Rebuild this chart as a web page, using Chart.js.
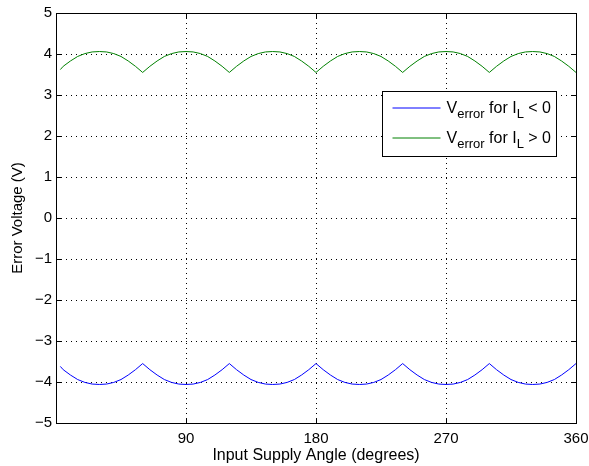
<!DOCTYPE html>
<html>
<head>
<meta charset="utf-8">
<script src="https://cdn.jsdelivr.net/npm/chart.js@4"></script>
<style>
  body { margin: 0; background: #fff; }
  #wrap { width: 589px; height: 466px; }
</style>
</head>
<body>
<div id="wrap"><canvas id="errChart" width="589" height="466"></canvas></div>
<script>
// Input supply angle (degrees)
const angles = [
    3, 5, 10, 15, 20, 25, 30, 35, 40, 45, 50, 55, 60,
    65, 70, 75, 80, 85, 90, 95, 100, 105, 110, 115, 120,
    125, 130, 135, 140, 145, 150, 155, 160, 165, 170, 175, 180,
    185, 190, 195, 200, 205, 210, 215, 220, 225, 230, 235, 240,
    245, 250, 255, 260, 265, 270, 275, 280, 285, 290, 295, 300,
    305, 310, 315, 320, 325, 330, 335, 340, 345, 350, 355, 360
];

// V_error for I_L < 0 (blue)
const errorNeg = [
    -3.62, -3.70, -3.83, -3.94, -4.01, -4.05, -4.06, -4.05, -4.01, -3.94, -3.83, -3.70, -3.55,
    -3.70, -3.83, -3.94, -4.01, -4.05, -4.06, -4.05, -4.01, -3.94, -3.83, -3.70, -3.55,
    -3.70, -3.83, -3.94, -4.01, -4.05, -4.06, -4.05, -4.01, -3.94, -3.83, -3.70, -3.55,
    -3.70, -3.83, -3.94, -4.01, -4.05, -4.06, -4.05, -4.01, -3.94, -3.83, -3.70, -3.55,
    -3.70, -3.83, -3.94, -4.01, -4.05, -4.06, -4.05, -4.01, -3.94, -3.83, -3.70, -3.55,
    -3.70, -3.83, -3.94, -4.01, -4.05, -4.06, -4.05, -4.01, -3.94, -3.83, -3.70, -3.55
];

// V_error for I_L > 0 (green)
const errorPos = [
    3.62, 3.70, 3.83, 3.94, 4.01, 4.05, 4.06, 4.05, 4.01, 3.94, 3.83, 3.70, 3.55,
    3.70, 3.83, 3.94, 4.01, 4.05, 4.06, 4.05, 4.01, 3.94, 3.83, 3.70, 3.55,
    3.70, 3.83, 3.94, 4.01, 4.05, 4.06, 4.05, 4.01, 3.94, 3.83, 3.70, 3.55,
    3.70, 3.83, 3.94, 4.01, 4.05, 4.06, 4.05, 4.01, 3.94, 3.83, 3.70, 3.55,
    3.70, 3.83, 3.94, 4.01, 4.05, 4.06, 4.05, 4.01, 3.94, 3.83, 3.70, 3.55,
    3.70, 3.83, 3.94, 4.01, 4.05, 4.06, 4.05, 4.01, 3.94, 3.83, 3.70, 3.55
];

const xTicks = [90, 180, 270, 360];
const yTicks = [-5, -4, -3, -2, -1, 0, 1, 2, 3, 4, 5];

const BLUE = '#0000ff';
const GREEN = '#008000';
const FONT = '"Liberation Sans", Arial, Helvetica, sans-serif';

function toPoints(ys) {
    return angles.map((a, i) => ({ x: a, y: ys[i] }));
}

// MATLAB style: dotted grid, boxed axes, ticks pointing inward
const matlabAxes = {
    id: 'matlabAxes',
    beforeDatasetsDraw(chart) {
        const { ctx, chartArea: a, scales: { x, y } } = chart;
        ctx.save();
        ctx.strokeStyle = '#000';
        ctx.lineWidth = 1;
        ctx.setLineDash([1, 4]);
        xTicks.forEach(v => {
            const px = Math.round(x.getPixelForValue(v)) + 0.5;
            ctx.beginPath();
            ctx.moveTo(px, a.top);
            ctx.lineTo(px, a.bottom);
            ctx.stroke();
        });
        yTicks.forEach(v => {
            const py = Math.round(y.getPixelForValue(v)) + 0.5;
            ctx.beginPath();
            ctx.moveTo(a.left, py);
            ctx.lineTo(a.right, py);
            ctx.stroke();
        });
        ctx.restore();
    },
    afterDatasetsDraw(chart) {
        const { ctx, chartArea: a, scales: { x, y } } = chart;
        const l = Math.round(a.left) + 0.5, r = Math.round(a.right) + 0.5;
        const t = Math.round(a.top) + 0.5, b = Math.round(a.bottom) + 0.5;
        const tl = 5;
        ctx.save();
        ctx.strokeStyle = '#000';
        ctx.lineWidth = 1;
        ctx.strokeRect(l, t, r - l, b - t);
        ctx.beginPath();
        xTicks.forEach(v => {
            const px = Math.round(x.getPixelForValue(v)) + 0.5;
            ctx.moveTo(px, b); ctx.lineTo(px, b - tl);
            ctx.moveTo(px, t); ctx.lineTo(px, t + tl);
        });
        yTicks.forEach(v => {
            const py = Math.round(y.getPixelForValue(v)) + 0.5;
            ctx.moveTo(l, py); ctx.lineTo(l + tl, py);
            ctx.moveTo(r, py); ctx.lineTo(r - tl, py);
        });
        ctx.stroke();
        ctx.restore();
    },
    afterDraw(chart) {
        // legend with subscripts
        const { ctx, chartArea: a } = chart;
        const bx = Math.round(a.right) - 194 + 0.5;
        const by = Math.round(a.top) + 78 + 0.5;
        const bw = 174, bh = 65;
        ctx.save();
        ctx.setLineDash([]);
        ctx.fillStyle = '#fff';
        ctx.fillRect(bx, by, bw, bh);
        ctx.strokeStyle = '#000';
        ctx.lineWidth = 1;
        ctx.strokeRect(bx, by, bw, bh);

        const rows = [
            { color: BLUE, sign: '< 0', cy: by + 16.5 },
            { color: GREEN, sign: '> 0', cy: by + 46.5 }
        ];
        rows.forEach(row => {
            ctx.strokeStyle = row.color;
            ctx.lineWidth = 1;
            ctx.beginPath();
            ctx.moveTo(bx + 10, row.cy);
            ctx.lineTo(bx + 58, row.cy);
            ctx.stroke();

            const base = row.cy + 5;
            let tx = bx + 64;
            ctx.fillStyle = '#000';
            ctx.textBaseline = 'alphabetic';
            ctx.textAlign = 'left';
            const big = '16px ' + FONT, small = '13px ' + FONT;
            const parts = [
                ['V', big, 0], ['error', small, 5], [' for I', big, 0], ['L', small, 5], [' ' + row.sign, big, 0]
            ];
            parts.forEach(([txt, f, dy]) => {
                ctx.font = f;
                ctx.fillText(txt, tx, base + dy);
                tx += ctx.measureText(txt).width;
            });
        });
        ctx.restore();
    }
};

new Chart(document.getElementById('errChart'), {
    type: 'line',
    data: {
        datasets: [
            {
                label: 'V_error for I_L < 0',
                data: toPoints(errorNeg),
                borderColor: BLUE,
                borderWidth: 1,
                pointRadius: 0,
                tension: 0,
                fill: false
            },
            {
                label: 'V_error for I_L > 0',
                data: toPoints(errorPos),
                borderColor: GREEN,
                borderWidth: 1,
                pointRadius: 0,
                tension: 0,
                fill: false
            }
        ]
    },
    options: {
        responsive: false,
        animation: false,
        layout: { padding: { top: 13, right: 13, left: 0, bottom: 0 } },
        plugins: {
            legend: { display: false },
            tooltip: { enabled: false }
        },
        scales: {
            x: {
                type: 'linear',
                min: 0,
                max: 360,
                afterBuildTicks: s => { s.ticks = xTicks.map(v => ({ value: v })); },
                afterFit: s => { s.height = 43; s.paddingLeft = 0; s.paddingRight = 0; },
                grid: { display: false, drawTicks: false },
                border: { display: false },
                ticks: {
                    autoSkip: false,
                    maxRotation: 0,
                    padding: 7,
                    color: '#000',
                    font: { family: FONT, size: 15 }
                },
                title: {
                    display: true,
                    text: 'Input Supply Angle (degrees)',
                    color: '#000',
                    font: { family: FONT, size: 16 },
                    padding: { top: 0, bottom: 1 }
                }
            },
            y: {
                min: -5,
                max: 5,
                afterBuildTicks: s => { s.ticks = yTicks.map(v => ({ value: v })); },
                afterFit: s => { s.width = 56; s.paddingTop = 0; s.paddingBottom = 0; },
                grid: { display: false, drawTicks: false },
                border: { display: false },
                ticks: {
                    padding: 4,
                    color: '#000',
                    font: { family: FONT, size: 15 },
                    callback: v => String(v).replace('-', '\u2212')
                },
                title: {
                    display: true,
                    text: 'Error Voltage (V)',
                    color: '#000',
                    font: { family: FONT, size: 15 },
                    padding: { top: 9, bottom: 0 }
                }
            }
        }
    },
    plugins: [matlabAxes]
});
</script>
</body>
</html>
